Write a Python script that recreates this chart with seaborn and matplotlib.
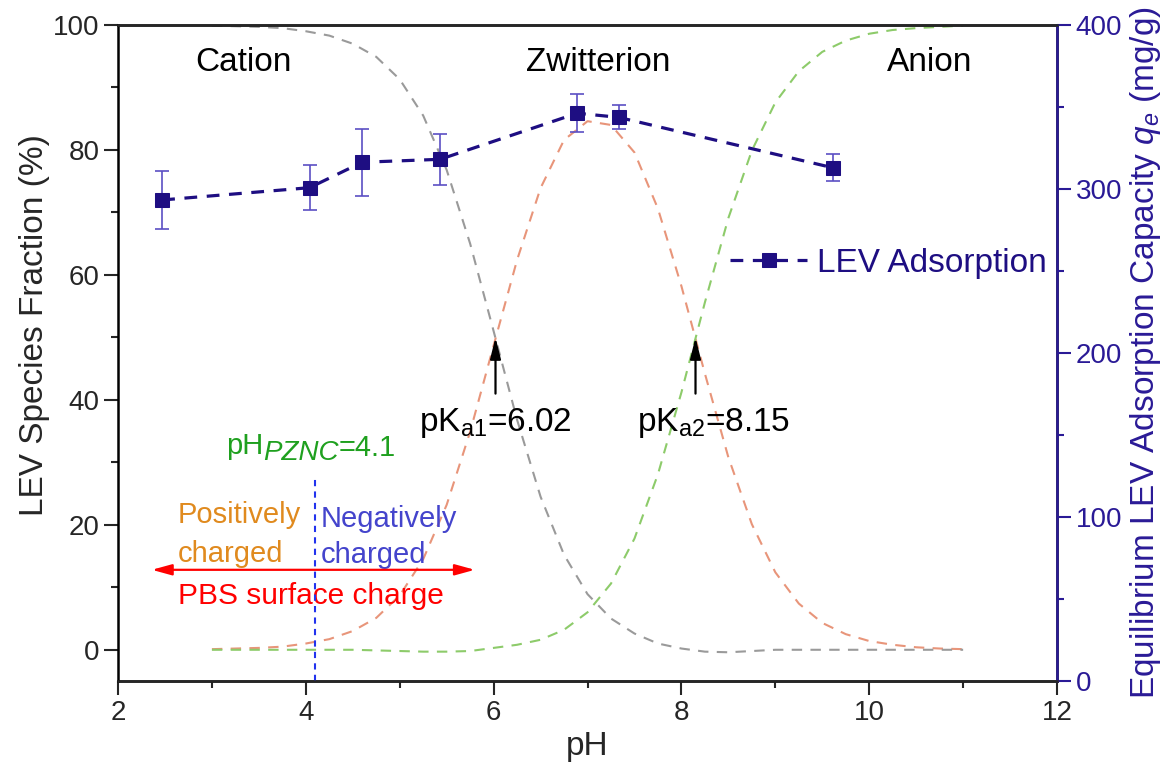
import matplotlib
matplotlib.use("Agg")
import matplotlib.pyplot as plt
import numpy as np
import pandas as pd
import seaborn as sns
from matplotlib.ticker import MultipleLocator

# ---------------- data ----------------
species_ph = [3.0, 3.25, 3.5, 3.75, 4.0, 4.25, 4.5, 4.75, 5.0, 5.25, 5.5, 5.75,
              6.0, 6.25, 6.5, 6.75, 7.0, 7.25, 7.5, 7.75, 8.0, 8.25, 8.5, 8.75,
              9.0, 9.25, 9.5, 9.75, 10.0, 10.25, 10.5, 10.75, 11.0]
cation_pct = [99.9, 99.8, 99.7, 99.5, 99.0, 98.3, 97.0, 94.9, 91.3, 85.5, 76.8, 65.0,
              51.0, 36.8, 24.5, 15.2, 8.9, 5.0, 2.6, 1.0, 0.2, -0.3, -0.4, -0.2,
              0.0, 0.0, 0.0, 0.0, 0.0, 0.0, 0.0, 0.0, 0.0]
zwitterion_pct = [0.1, 0.2, 0.3, 0.5, 1.0, 1.7, 3.0, 5.1, 8.7, 14.5, 23.2, 34.9,
                  48.7, 62.4, 73.9, 81.6, 84.6, 84.0, 79.6, 70.6, 58.2, 44.2, 30.8, 20.1,
                  12.4, 7.4, 4.3, 2.5, 1.4, 0.8, 0.4, 0.2, 0.1]
anion_pct = [0.0, 0.0, 0.0, 0.0, 0.0, 0.0, 0.0, -0.1, -0.2, -0.3, -0.3, -0.2,
             0.3, 0.8, 1.6, 3.2, 6.0, 10.6, 17.8, 28.1, 41.2, 55.6, 69.1, 79.9,
             87.6, 92.6, 95.7, 97.5, 98.6, 99.2, 99.5, 99.7, 99.9]

ads_ph = [2.47, 4.04, 4.60, 5.43, 6.89, 7.33, 9.61]
ads_qe = [293.3, 300.8, 316.3, 318.1, 346.2, 343.7, 313.0]
ads_err = [17.7, 13.7, 20.5, 15.5, 11.7, 7.3, 8.4]

species_labels = ["Cation", "Zwitterion", "Anion"]
species_label_ph = [3.34, 7.11, 10.64]
pka_values = [6.02, 8.15]
pka_text_ph = [5.29, 7.61]
ph_pznc = 4.1

# ---------------- style ----------------
sns.set_style("ticks")
plt.rcParams["font.family"] = ["Liberation Sans", "DejaVu Sans"]
plt.rcParams["mathtext.fontset"] = "custom"
plt.rcParams["mathtext.rm"] = "Liberation Sans"
plt.rcParams["mathtext.it"] = "Liberation Sans:italic"
plt.rcParams["mathtext.bf"] = "Liberation Sans:bold"

navy = "#1E0E82"
axis_navy = "#2A1A96"
err_col = "#5B4FC4"
grey = "#9A9A9A"
salmon = "#E8957A"
lgreen = "#8DCB6A"

fig = plt.figure(figsize=(11.72, 7.76), dpi=100)
ax = fig.add_axes([0.1007, 0.1224, 0.8012, 0.8454])
ax2 = ax.twinx()

df = pd.DataFrame({"pH": species_ph, "Cation": cation_pct,
                   "Zwitterion": zwitterion_pct, "Anion": anion_pct})
for col, color in [("Zwitterion", salmon), ("Cation", grey), ("Anion", lgreen)]:
    sns.lineplot(data=df, x="pH", y=col, ax=ax, color=color, lw=1.5, legend=False)
    ax.lines[-1].set_linestyle((0, (5, 4)))

# adsorption
sns.lineplot(x=ads_ph, y=ads_qe, ax=ax2, color=navy, lw=2.3, marker="s",
             markersize=10, markeredgecolor=navy, markerfacecolor=navy, zorder=4)
ads_line = ax2.lines[-1]
ads_line.set_linestyle((0, (4, 3)))
ax2.errorbar(ads_ph, ads_qe, yerr=ads_err, fmt="none", ecolor=err_col,
             elinewidth=1.2, capsize=5, capthick=1.2, zorder=3)
leg = ax2.legend(handles=[ads_line], labels=["LEV Adsorption"], loc="center left",
                 bbox_to_anchor=(0.652, 0.637), frameon=False, fontsize=24,
                 handlelength=2.3, handletextpad=0.3, borderpad=0, borderaxespad=0)
for t in leg.get_texts():
    t.set_color(navy)

# axes limits/ticks
ax.set_xlim(2, 12)
ax.set_ylim(-5, 100)
ax2.set_ylim(0, 400)
ax.xaxis.set_major_locator(MultipleLocator(2))
ax.xaxis.set_minor_locator(MultipleLocator(1))
ax.yaxis.set_major_locator(MultipleLocator(20))
ax.yaxis.set_minor_locator(MultipleLocator(10))
ax2.yaxis.set_major_locator(MultipleLocator(100))
ax2.yaxis.set_minor_locator(MultipleLocator(50))

for a in (ax, ax2):
    a.tick_params(which="major", direction="out", length=10, width=1.5, labelsize=20)
    a.tick_params(which="minor", direction="out", length=5, width=1.5)
for s in ax.spines.values():
    s.set_linewidth(1.8)
    s.set_color("black")
for s in ax2.spines.values():
    s.set_linewidth(1.8)
ax2.spines["right"].set_color(axis_navy)
ax2.spines["left"].set_visible(False)
ax2.tick_params(axis="y", which="both", colors=axis_navy, labelcolor=axis_navy)

ax.set_xlabel("pH", fontsize=24, labelpad=4)
ax.set_ylabel("LEV Species Fraction (%)", fontsize=24)
ax.yaxis.set_label_coords(-0.072, 0.543)
ax2.set_ylabel(r"Equilibrium LEV Adsorption Capacity $q_e$ (mg/g)", fontsize=24,
               color=axis_navy, labelpad=4)

# species labels
for lab, xp in zip(species_labels, species_label_ph):
    ax.text(xp, 94.0, lab, fontsize=24, ha="center", va="center", color="black")

# pKa arrows and labels
for pk, tx, sub in zip(pka_values, pka_text_ph, ["a1", "a2"]):
    ax.annotate("", xy=(pk, 50), xytext=(pk, 41),
                arrowprops=dict(arrowstyle="-|>,head_length=0.8,head_width=0.2",
                                color="black", lw=1.6, mutation_scale=16,
                                shrinkA=0, shrinkB=0), zorder=5)
    ax.text(tx - 0.08, 35.0, r"pK$_{\mathrm{%s}}$=%.2f" % (sub, pk), fontsize=24,
            ha="left", va="baseline", color="black", zorder=6)

# PZNC label built from pieces so the lowered "PZNC" keeps near full size
pz_green = "#1FA01F"
t_ph = ax.text(3.15, 31.3, "pH", fontsize=21, color=pz_green, ha="left", va="baseline")
t_sub = ax.annotate("PZNC", xy=(1, 0), xycoords=t_ph, xytext=(0, 0),
                    textcoords="offset points", fontsize=20, color=pz_green,
                    style="italic", ha="left", va="baseline")
ax.annotate("=4.1", xy=(1, 0), xycoords=t_sub, xytext=(0, 7.5),
            textcoords="offset points", fontsize=21, color=pz_green,
            ha="left", va="baseline")

ax.vlines(ph_pznc, -5, 28, colors="#2233EE", linestyles=(0, (3, 2.5)), lw=1.5, zorder=5)
ax.text(2.64, 20.3, "Positively", fontsize=21, color="#E08A1E", ha="left", va="baseline")
ax.text(2.64, 14.1, "charged", fontsize=21, color="#E08A1E", ha="left", va="baseline")
ax.text(4.16, 19.7, "Negatively", fontsize=21, color="#4444CC", ha="left", va="baseline")
ax.text(4.16, 13.9, "charged", fontsize=21, color="#4444CC", ha="left", va="baseline")
ax.annotate("", xy=(2.36, 12.8), xytext=(5.80, 12.8),
            arrowprops=dict(arrowstyle="<|-|>,head_length=0.8,head_width=0.22",
                            color="red", lw=1.6, mutation_scale=15,
                            shrinkA=0, shrinkB=0), zorder=5)
ax.text(2.64, 7.4, "PBS surface charge", fontsize=21.5, color="red",
        ha="left", va="baseline")

fig.savefig("out.png", dpi=100)
